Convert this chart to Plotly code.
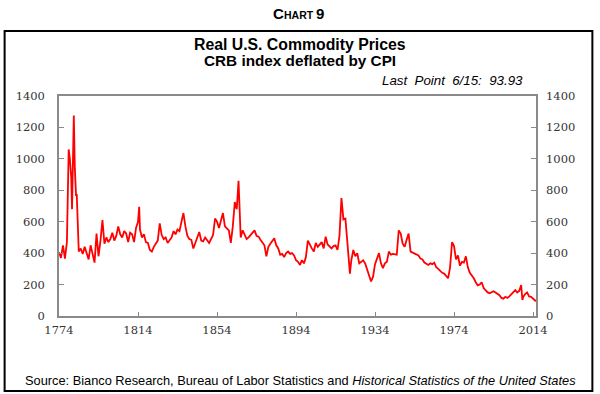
import plotly.graph_objects as go

years = [1774, 1775, 1776, 1777, 1778, 1778.9, 1779.5, 1780.2, 1780.6, 1781.0, 1781.5, 1782.0, 1782.6, 1783.0, 1783.5,
         1784, 1785, 1786, 1787, 1788, 1789, 1790, 1791, 1792, 1793, 1794, 1795, 1796, 1797, 1798, 1799,
         1800, 1801, 1802, 1803, 1804, 1805, 1806, 1807, 1808, 1809, 1810, 1811, 1812, 1813, 1814, 1814.6,
         1815, 1816, 1817, 1818, 1819, 1820, 1821, 1822, 1823, 1824, 1825, 1826, 1827, 1828, 1829,
         1830, 1831, 1832, 1833, 1834, 1835, 1836, 1837, 1838, 1839, 1840, 1841, 1842, 1843, 1844,
         1845, 1846, 1847, 1848, 1849, 1850, 1851, 1852, 1853, 1854, 1855, 1856, 1857, 1858, 1859,
         1860, 1861, 1862, 1863, 1864, 1864.9, 1865.5, 1866, 1867, 1868, 1869, 1870, 1871, 1872, 1873,
         1874, 1875, 1876, 1877, 1878, 1879, 1880, 1881, 1882, 1883, 1884, 1885, 1886, 1887, 1888,
         1889, 1890, 1891, 1892, 1893, 1894, 1895, 1896, 1897, 1898, 1899, 1900, 1901, 1902, 1903,
         1904, 1905, 1906, 1907, 1908, 1909, 1910, 1911, 1912, 1913, 1914, 1915, 1916, 1917, 1918,
         1919, 1919.6, 1920, 1920.6, 1921.3, 1922, 1923, 1924, 1925, 1926, 1927, 1928, 1929, 1930,
         1931, 1932, 1933, 1934, 1935, 1936, 1937, 1938, 1939, 1940, 1941, 1942, 1943, 1944, 1945,
         1946, 1947, 1948, 1949, 1950, 1951, 1952, 1953, 1954, 1955, 1956, 1957, 1958, 1959, 1960,
         1961, 1962, 1963, 1964, 1965, 1966, 1967, 1968, 1969, 1970, 1971, 1972, 1973, 1974, 1975,
         1976, 1977, 1978, 1979, 1980, 1981, 1982, 1983, 1984, 1985, 1986, 1987, 1988, 1989, 1990,
         1991, 1992, 1993, 1994, 1995, 1996, 1997, 1998, 1999, 2000, 2001, 2002, 2003, 2004, 2005,
         2006, 2007, 2008, 2008.6, 2009, 2010, 2011, 2012, 2013, 2014, 2015.45]

values = [405, 370, 450, 365, 470, 1060, 1000, 880, 680, 890, 1275, 950, 770, 770, 520,
          410, 430, 395, 440, 400, 360, 450, 390, 340, 525, 380, 480, 610, 460, 500, 470,
          490, 530, 480, 510, 570, 520, 500, 540, 525, 470, 530, 520, 470, 560, 600, 695,
          550, 500, 520, 470, 465, 420, 410, 440, 465, 480, 590, 515, 490, 500, 465,
          480, 500, 540, 520, 550, 540, 600, 655, 570, 510, 490, 485, 430, 470, 500,
          535, 480, 475, 500, 480, 465, 490, 515, 620, 600, 560, 610, 655, 570, 560,
          545, 465, 570, 725, 680, 860, 670, 500, 545, 520, 490, 500, 515, 530, 545,
          510, 505, 485, 470, 450, 380, 440, 460, 475, 495, 450, 430, 390, 395, 375,
          400, 410, 395, 400, 385, 355, 345, 325, 355, 335, 375, 480, 450, 430, 410,
          465, 440, 455, 470, 430, 505, 455, 440, 430, 445, 450, 420, 510, 750, 615,
          620, 495, 470, 375, 270, 355, 420, 380, 400, 335, 345, 355, 335, 300,
          260, 220, 250, 330, 365, 400, 335, 305, 335, 345, 410, 390, 395, 390, 390,
          545, 525, 460, 440, 485, 525, 410, 405, 400, 390, 385, 365, 360, 340, 330,
          325, 335, 330, 340, 310, 300, 285, 275, 270, 255, 240, 310, 470, 445, 360,
          385, 320, 345, 340, 380, 310, 275, 260, 240, 215, 195, 200, 215, 178, 160,
          150, 145, 150, 158, 150, 140, 132, 115, 110, 122, 115, 125, 140, 150, 165,
          150, 160, 197, 102, 120, 140, 150, 125, 122, 110, 93.93]

x_ticks = [1774, 1814, 1854, 1894, 1934, 1974, 2014]
y_ticks = [0, 200, 400, 600, 800, 1000, 1200, 1400]

fig = go.Figure()
fig.add_trace(go.Scatter(x=years, y=values, mode="lines",
                         line=dict(color="#ff0000", width=1.8), showlegend=False))
fig.add_trace(go.Scatter(x=[years[0]], y=[values[0]], yaxis="y2", mode="lines",
                         line=dict(width=0), showlegend=False, hoverinfo="skip"))

tickfont = dict(family="DejaVu Serif", size=11.5, color="#333")
axcol = "#8a8a8a"

L, R, T, B = 58.5, 536.5, 96, 316
W, H = R - L, B - T


def px(x):
    return (x - L) / W


def py(y):
    return (B - y) / H


def ann(text, x, y, size, xanchor="center", family="Liberation Sans"):
    return dict(text=text, x=px(x), y=py(y), xref="paper", yref="paper", showarrow=False,
                xanchor=xanchor, yanchor="middle", font=dict(family=family, size=size, color="black"))


fig.update_layout(
    width=600, height=394,
    margin=dict(l=L, r=600 - R, t=T, b=394 - B),
    paper_bgcolor="white", plot_bgcolor="white",
    xaxis=dict(range=[1774, 2015.5], tickvals=x_ticks, ticktext=[str(v) for v in x_ticks],
               ticks="inside", ticklen=4, tickcolor=axcol, showline=True, linecolor=axcol,
               linewidth=1.5, mirror=True, showgrid=False, zeroline=False, tickfont=tickfont,
               ticklabelstandoff=2),
    yaxis=dict(range=[0, 1400], tickvals=y_ticks, ticks="inside", ticklen=5, tickcolor=axcol,
               showline=True, linecolor=axcol, linewidth=1.5, showgrid=False, zeroline=False,
               tickfont=tickfont, ticklabelstandoff=10),
    yaxis2=dict(range=[0, 1400], tickvals=y_ticks, ticks="inside", ticklen=5, tickcolor=axcol,
                showline=True, linecolor=axcol, linewidth=1.5, showgrid=False, zeroline=False,
                overlaying="y", side="right", tickfont=tickfont, ticklabelstandoff=6),
    shapes=[dict(type="rect", xref="paper", yref="paper",
                 x0=px(4), x1=px(593), y0=py(391), y1=py(31),
                 line=dict(color="black", width=2))],
    annotations=[
        ann("<b>C</b>", 271, 14, 15, "left"),
        ann("<b>HART</b>", 281.5, 15, 10.5, "left"),
        ann("<b>9</b>", 314, 14, 15, "left"),
        ann("<b>Real U.S. Commodity Prices</b>", 300, 44, 15.8),
        ann("<b>CRB index deflated by CPI</b>", 300, 60, 15.3),
        ann("<i>Last  Point  6/15:  93.93</i>", 525, 80, 13.3, "right"),
        ann("Source: Bianco Research, Bureau of Labor Statistics and <i>Historical Statistics of the United States</i>",
            301, 380, 12.8),
    ],
)

fig.write_html("out.html", config={"displayModeBar": False},
               post_script="document.body.style.margin='0';document.body.style.padding='0';")
